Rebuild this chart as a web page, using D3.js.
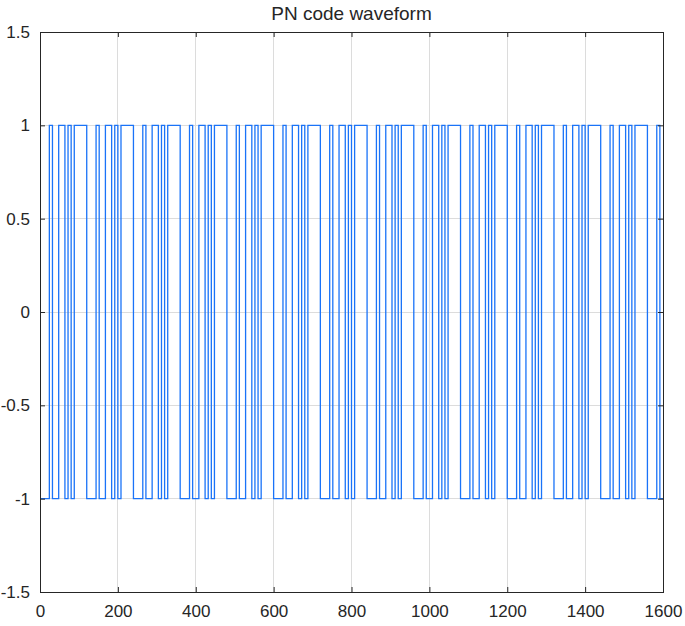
<!DOCTYPE html>
<html>
<head>
<meta charset="utf-8">
<script src="https://cdn.jsdelivr.net/npm/d3@7/dist/d3.min.js"></script>
<style>
  body { margin: 0; background: #fff; }
  text { font-family: "Liberation Sans", Arial, sans-serif; fill: #262626; }
</style>
</head>
<body>
<script>
// one period of the PN code (chips, 0 = -1 level, 1 = +1 level)
const pnChips = [0,0,0,1,0,0,1,1,0,1,0,1,1,1,1];
const samplesPerChip = 8;
const sampleCount = 1600;

const xTicks = [0, 200, 400, 600, 800, 1000, 1200, 1400, 1600];
const xTickLabels = ["0", "200", "400", "600", "800", "1000", "1200", "1400", "1600"];
const yTicks = [-1.5, -1, -0.5, 0, 0.5, 1, 1.5];
const yTickLabels = ["-1.5", "-1", "-0.5", "0", "0.5", "1", "1.5"];
const chartTitle = "PN code waveform";


class Wave_D3 {
  constructor(width, height, margin) {
    this.margin = margin;
    this.width = width - margin.left - margin.right;
    this.height = height - margin.top - margin.bottom;

    this.x = d3.scaleLinear().domain([0, sampleCount]).range([0, this.width]);
    this.y = d3.scaleLinear().domain([-1.5, 1.5]).range([this.height, 0]);

    this.svg = d3.select("body")
      .append("svg")
        .attr("width", width)
        .attr("height", height);

    this.canvas = this.svg
      .append("g")
        .attr("transform", "translate(" + margin.left + "," + margin.top + ")");
  };

  // sample values of the code, each chip held for samplesPerChip samples
  getSamples() {
    var data = [];
    for (var i = 0; i < sampleCount; i++) {
      var chip = pnChips[Math.floor(i / samplesPerChip) % pnChips.length];
      data.push({n: i, v: chip ? 1 : -1});
    }
    data.push({n: sampleCount, v: data[data.length - 1].v});
    return data;
  };

  getGrid(path, obj) {
    path.selectAll("line.vgrid")
      .data(xTicks.slice(1, -1))
      .enter()
      .append("line")
        .attr("class", "vgrid")
        .attr("x1", d => obj.x(d)).attr("x2", d => obj.x(d))
        .attr("y1", 0).attr("y2", obj.height);
    path.selectAll("line.hgrid")
      .data(yTicks.slice(1, -1))
      .enter()
      .append("line")
        .attr("class", "hgrid")
        .attr("y1", d => obj.y(d)).attr("y2", d => obj.y(d))
        .attr("x1", 0).attr("x2", obj.width);
    path.selectAll("line")
      .attr("stroke", "#dcdcdc")
      .attr("stroke-width", 1)
      .attr("shape-rendering", "crispEdges");
  };

  getXAxis(path, obj) {
    path
      .attr("transform", "translate(0," + obj.height + ")")
      .call(d3.axisBottom(obj.x)
        .tickValues(xTicks)
        .tickSizeInner(-5)
        .tickSizeOuter(0)
        .tickPadding(13)
        .tickFormat((d, i) => xTickLabels[i]));
  };

  getYAxis(path, obj) {
    path
      .call(d3.axisLeft(obj.y)
        .tickValues(yTicks)
        .tickSizeInner(-5)
        .tickSizeOuter(0)
        .tickPadding(10)
        .tickFormat((d, i) => yTickLabels[i]));
  };

  styleAxis(path) {
    path.select(".domain").remove();
    path.selectAll(".tick line").attr("stroke", "#262626");
    path.selectAll(".tick text")
      .attr("font-size", "17px")
      .attr("font-family", "Liberation Sans, Arial, sans-serif")
      .attr("fill", "#262626");
  };

  plot() {
    var obj = this;
    var data = this.getSamples();

    this.canvas.append("g").attr("class", "grid").call(this.getGrid, this);

    var line = d3.line()
      .x(d => obj.x(d.n))
      .y(d => obj.y(d.v))
      .curve(d3.curveStepAfter);

    this.canvas.append("path")
      .datum(data)
      .attr("fill", "none")
      .attr("stroke", "#1a73f8")
      .attr("stroke-width", 1.3)
      .attr("d", line);

    // bottom and left axes with labels
    this.canvas.append("g").attr("class", "x axis")
      .call(this.getXAxis, this).call(this.styleAxis);
    this.canvas.append("g").attr("class", "y axis")
      .call(this.getYAxis, this).call(this.styleAxis);

    // top and right ticks, no labels
    this.canvas.append("g")
      .call(d3.axisTop(this.x).tickValues(xTicks).tickSizeInner(-5).tickSizeOuter(0).tickFormat(""))
      .call(this.styleAxis);
    this.canvas.append("g")
      .attr("transform", "translate(" + this.width + ",0)")
      .call(d3.axisRight(this.y).tickValues(yTicks).tickSizeInner(-5).tickSizeOuter(0).tickFormat(""))
      .call(this.styleAxis);

    // box
    this.canvas.append("rect")
      .attr("width", this.width)
      .attr("height", this.height)
      .attr("fill", "none")
      .attr("stroke", "#262626")
      .attr("stroke-width", 1)
      .attr("shape-rendering", "crispEdges");

    this.svg.append("text")
      .attr("x", this.margin.left + this.width / 2)
      .attr("y", 20)
      .attr("text-anchor", "middle")
      .attr("font-size", "19px")
      .text(chartTitle);
  };
};

var chart = new Wave_D3(685, 626, {top: 32, right: 22, bottom: 34, left: 40});
chart.plot();
</script>
</body>
</html>
